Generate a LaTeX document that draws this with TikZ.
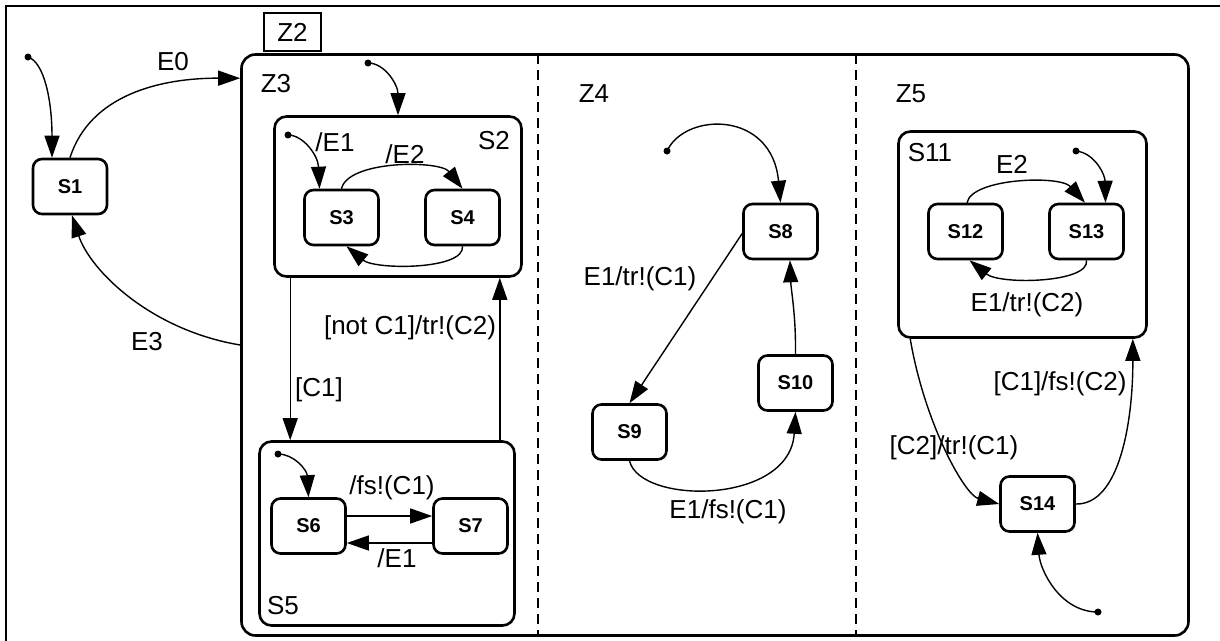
\documentclass[tikz,border=0pt]{standalone}
\usepackage{fontspec}
\setmainfont{Liberation Sans}
\usetikzlibrary{arrows.meta}
\begin{document}
\begin{tikzpicture}[x=1pt,y=-1pt,
  state/.style={draw, line width=2.6pt, rounded corners=9pt, minimum width=74pt, minimum height=55pt, inner sep=0pt, font=\bfseries\fontsize{20}{24}\selectfont},
  comp/.style={draw, line width=2.6pt, rounded corners=12pt, inner sep=0pt},
  lbl/.style={inner sep=0pt, font=\fontsize{26}{30}\selectfont},
  conn/.style={line width=1.4pt, -{Triangle[length=22pt,width=15pt]}},
  initdot/.style={circle, fill, inner sep=0pt, minimum size=7pt},
  divider/.style={line width=1.4pt, dash pattern=on 10pt off 6pt},
]
\useasboundingbox (0,0) rectangle (1220,640);
\clip (0,0) rectangle (1220,640);
\draw[line width=2.2pt] (6,6) rectangle (1240,660);

% containers
\node[comp, rounded corners=14pt, minimum width=947pt, minimum height=581pt] (Z2) at (715,345) {};
\node[lbl, draw, line width=2pt, minimum width=57pt, minimum height=38pt] (Z2tab) at (292.5,32) {Z2};
\draw[divider] (538,54) -- (538,636);
\draw[divider] (856,54) -- (856,636);
\node[comp, minimum width=247pt, minimum height=160pt] (S2) at (398,196.5) {};
\node[comp, minimum width=255pt, minimum height=184pt] (S5) at (387,533.5) {};
\node[comp, minimum width=248pt, minimum height=206pt] (S11) at (1022.5,234.5) {};

% states
\node[state] (S1) at (70,186.5) {S1};
\node[state] (S3) at (341.5,217.5) {S3};
\node[state] (S4) at (462.5,217.5) {S4};
\node[state] (S6) at (308.5,526) {S6};
\node[state] (S7) at (470.5,526) {S7};
\node[state] (S8) at (780.5,231.5) {S8};
\node[state] (S9) at (629.5,432) {S9};
\node[state] (S10) at (795.5,383) {S10};
\node[state] (S12) at (965.5,231.5) {S12};
\node[state] (S13) at (1086.5,231.5) {S13};
\node[state] (S14) at (1037.5,504) {S14};

% initial dots
\node[initdot] (i1) at (28,57) {};
\node[initdot] (i2) at (368,63) {};
\node[initdot] (i3) at (288,135) {};
\node[initdot] (i5) at (278,454) {};
\node[initdot] (i8) at (667,151) {};
\node[initdot] (i13) at (1076,151) {};
\node[initdot] (i14) at (1098,612) {};

% connectors
\draw[conn] (i1.center) .. controls (44,62) and (52,100) .. ([xshift=-18pt]S1.north);
\draw[conn] (S1.north) .. controls (90,95) and (160,78) .. ([yshift=-25pt]Z2.north west);
\draw[conn] (Z2.west) .. controls (150,330) and (90,270) .. ([xshift=2pt]S1.south);
\draw[conn] (i2.center) .. controls (385,63) and (398,85) .. (S2.north);
\draw[conn] (i3.center) .. controls (303,135) and (318,155) .. ([xshift=-22pt]S3.north);
\draw[conn] (S3.north) .. controls (348,160) and (440,160) .. (S4.north);
\draw[conn] (S4.south) .. controls (465,270) and (375,270) .. ([xshift=5pt]S3.south);
\draw[conn] ([xshift=17pt]S2.south west) -- ([xshift=32pt]S5.north west);
\draw[conn] ([xshift=-16pt]S5.north east) -- ([xshift=-23pt]S2.south east);
\draw[conn] (i5.center) .. controls (294,454) and (307,470) .. (S6.north);
\draw[conn] ([yshift=10pt]S6.east) -- ([yshift=10pt]S7.west);
\draw[conn] ([yshift=-17pt]S7.west) -- ([yshift=-17pt]S6.east);
\draw[conn] (i8.center) .. controls (685,112) and (772,110) .. (S8.north);
\draw[conn] ([yshift=-2pt]S8.west) -- (S9.north);
\draw[conn] (S10.north) .. controls (796,315) and (791,290) .. ([xshift=9.5pt]S8.south);
\draw[conn] (S9.south) .. controls (640,505) and (790,505) .. (S10.south);
\draw[conn] (i13.center) .. controls (1095,153) and (1105,175) .. ([xshift=19pt]S13.north);
\draw[conn] ([xshift=1.5pt]S12.north) .. controls (972,178) and (1060,175) .. ([xshift=-1.5pt]S13.north);
\draw[conn] (S13.south) .. controls (1090,283) and (1000,285) .. ([xshift=4pt]S12.south);
\draw[conn] ([xshift=13pt]S11.south west) .. controls (925,425) and (965,495) .. (S14.west);
\draw[conn] (S14.east) .. controls (1120,505) and (1133,420) .. ([xshift=-15pt]S11.south east);
\draw[conn] (i14.center) .. controls (1060,612) and (1040,570) .. (S14.south);

% labels
\node[lbl] (lE0) at (173,62) {E0};
\node[lbl] (lE3) at (147,342) {E3};
\node[lbl] (lZ3) at (276,84) {Z3};
\node[lbl] (lS2) at (494,141) {S2};
\node[lbl] (lE1a) at (335,142) {/E1};
\node[lbl] (lE2a) at (405,154) {/E2};
\node[lbl] (lnot) at (410,328) {[not C1]/tr!(C2)};
\node[lbl] (lC1) at (319,390) {[C1]};
\node[lbl] (lfs) at (392,488) {/fs!(C1)};
\node[lbl] (lE1b) at (397,558) {/E1};
\node[lbl] (lS5) at (283,606) {S5};
\node[lbl] (lZ4) at (594,94) {Z4};
\node[lbl] (ltr1) at (640,279) {E1/tr!(C1)};
\node[lbl] (lfs1) at (728,512) {E1/fs!(C1)};
\node[lbl] (lZ5) at (911,94) {Z5};
\node[lbl] (lS11) at (930,153) {S11};
\node[lbl] (lE2b) at (1012,164) {E2};
\node[lbl] (ltr2) at (1027,305) {E1/tr!(C2)};
\node[lbl] (lfs2) at (1060,384) {[C1]/fs!(C2)};
\node[lbl] (ltr3) at (954,448) {[C2]/tr!(C1)};
\end{tikzpicture}
\end{document}
